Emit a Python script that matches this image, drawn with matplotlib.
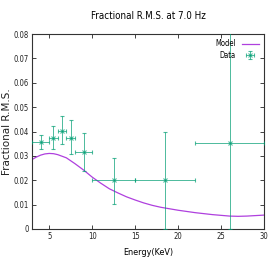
import matplotlib
matplotlib.use("Agg")
import matplotlib.pyplot as plt

# Data
data_x = [4.0, 5.5, 6.5, 7.5, 9.0, 12.5, 18.5, 26.0]
data_y = [0.0358, 0.0374, 0.0403, 0.0374, 0.0317, 0.0200, 0.0200, 0.0354]
data_xlo = [3.0, 5.0, 6.0, 7.0, 8.0, 10.0, 15.0, 22.0]
data_xhi = [5.0, 6.0, 7.0, 8.0, 10.0, 15.0, 22.0, 30.0]
data_ylo = [0.0330, 0.0327, 0.0347, 0.0306, 0.0238, 0.0104, 0.0000, 0.0000]
data_yhi = [0.0387, 0.0422, 0.0463, 0.0447, 0.0392, 0.0293, 0.0400, 0.0900]

model_x = [3, 3.5, 4, 4.5, 5, 5.5, 6, 7, 8, 9, 10, 11, 12, 13, 14, 15, 16, 17, 18,
           20, 22, 24, 26, 27, 28, 30]
model_y = [0.0285, 0.0295, 0.0303, 0.0308, 0.0310, 0.0309, 0.0305, 0.0292, 0.0268,
           0.0242, 0.0213, 0.0188, 0.0165, 0.0148, 0.0132, 0.0119, 0.0107, 0.0097,
           0.0089, 0.0077, 0.0067, 0.0059, 0.0053, 0.0052, 0.0053, 0.0057]

xticks = [5, 10, 15, 20, 25, 30]
yticks = [0, 0.01, 0.02, 0.03, 0.04, 0.05, 0.06, 0.07, 0.08]
ytick_labels = ["0", "0.01", "0.02", "0.03", "0.04", "0.05", "0.06", "0.07", "0.08"]

W, H = 274, 262
fig = plt.figure(figsize=(W / 100, H / 100), dpi=100)
ax = fig.add_axes([32 / W, 1 - 229 / H, (264 - 32) / W, (229 - 34) / H])

purple = "#9400d3"
green = "#009e73"
cond = dict(family="DejaVu Sans", stretch="condensed")

ax.plot(model_x, model_y, color=purple, lw=0.9, label="Model", zorder=2, alpha=0.75)
xerr = [[x - lo for x, lo in zip(data_x, data_xlo)], [hi - x for x, hi in zip(data_x, data_xhi)]]
yerr = [[y - lo for y, lo in zip(data_y, data_ylo)], [hi - y for y, hi in zip(data_y, data_yhi)]]
ax.errorbar(data_x, data_y, xerr=xerr, yerr=yerr, fmt="x", color=green, ms=2.5, mew=0.8,
            elinewidth=0.7, capsize=1.5, capthick=0.7, label="Data", zorder=3, alpha=0.7)

ax.set_xlim(3, 30)
ax.set_ylim(0, 0.08)
ax.set_xticks(xticks)
ax.set_xticklabels([str(t) for t in xticks], fontdict=cond)
ax.set_yticks(yticks)
ax.set_yticklabels(ytick_labels, fontdict=cond)
ax.tick_params(direction="in", length=3, width=0.6, labelsize=5.5, top=True, right=True,
               pad=2.5, colors="#222222")
for s in ax.spines.values():
    s.set_linewidth(0.8)
    s.set_color("#333333")

ax.set_title("Fractional R.M.S. at 7.0 Hz", fontsize=7, pad=11, **cond)
ax.set_xlabel("Energy(KeV)", fontsize=6.5, labelpad=5, **cond)
ax.set_ylabel("Fractional R.M.S.", fontsize=7.5, family="DejaVu Sans", va="center",
              color="#222222")
ax.yaxis.set_label_coords(-(32 - 7) / (264 - 32), 0.5)

leg = ax.legend(loc="upper right", frameon=False, markerfirst=False,
                handlelength=2.2, borderaxespad=0.3, labelspacing=0.3,
                prop={"family": "DejaVu Sans", "stretch": "condensed", "size": 5.5})

fig.savefig("out.png", dpi=100)
